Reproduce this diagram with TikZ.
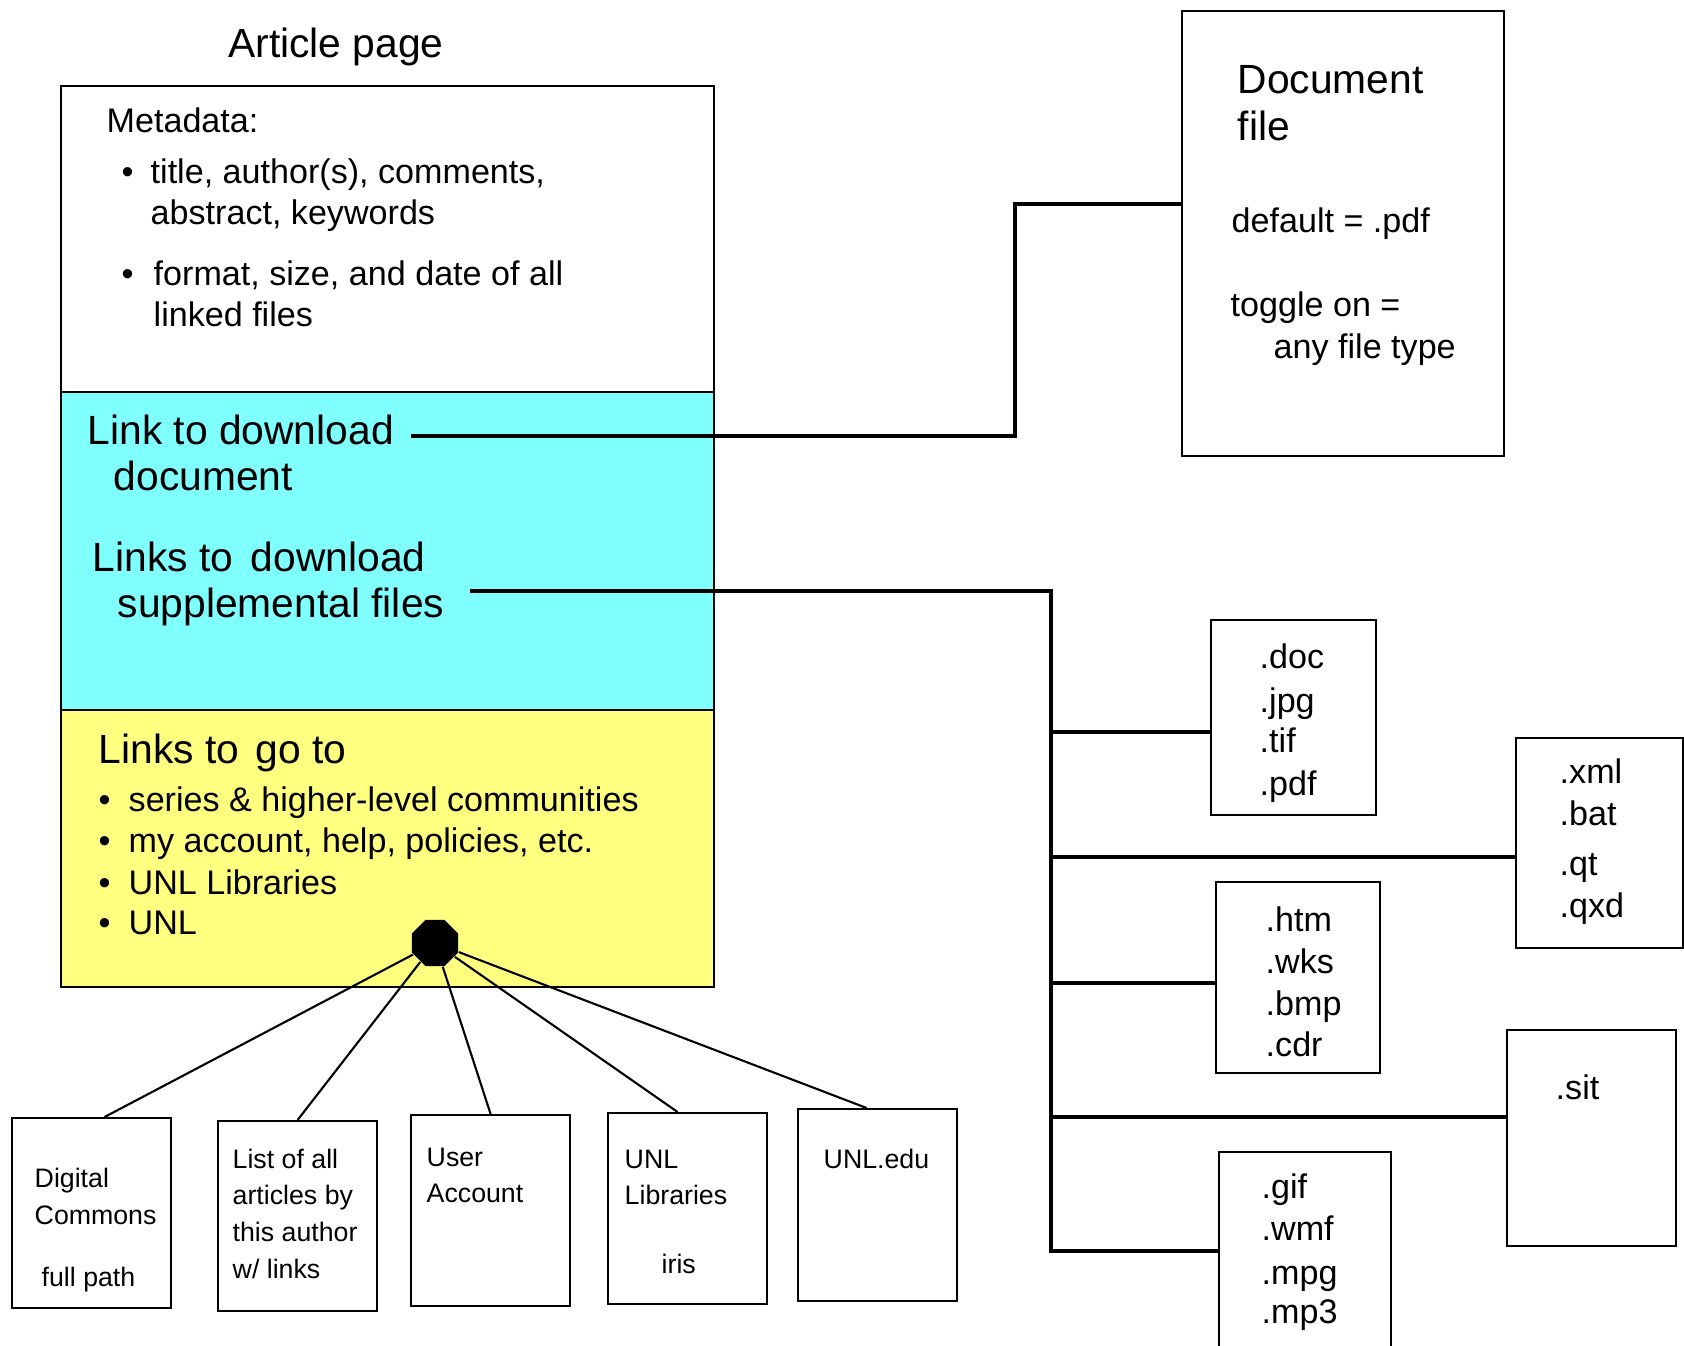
\documentclass[tikz,border=0pt]{standalone}
\usepackage{fontspec}
\setmainfont{Liberation Sans}
\usetikzlibrary{shapes.geometric}
\definecolor{paneCyan}{RGB}{128,255,255}
\definecolor{paneYellow}{RGB}{255,255,128}

\begin{document}
\begin{tikzpicture}[x=0.01cm,y=-0.01cm,
  box/.style={draw, line width=0.6pt, inner sep=0pt, anchor=north west},
  conn/.style={line width=1.2pt},
  spoke/.style={line width=0.6pt},
  lbl/.style={anchor=base west, inner sep=0pt},
  big/.style={lbl, font=\fontsize{11.6}{13}\selectfont},
  sml/.style={lbl, font=\fontsize{9.7}{11}\selectfont},
  tny/.style={lbl, font=\fontsize{7.6}{9}\selectfont},
]
\useasboundingbox (0,0) rectangle (1684,1346);

% ---- article page column
\node[lbl, anchor=base, font=\fontsize{11.6}{13}\selectfont] (title) at (336,58) {Article page};

\node[box, minimum width=6.53cm, minimum height=3.06cm] (meta) at (60,85) {};
\node[box, fill=paneCyan, minimum width=6.53cm, minimum height=3.18cm] (links) at (60,391) {};
\node[box, fill=paneYellow, minimum width=6.53cm, minimum height=2.77cm] (goto) at (60,709) {};

\node[sml] (m0) at (106,133) {Metadata:};
\node[sml] (mb1) at (121,184) {\textbullet};
\node[sml] (m1) at (150,184) {title, author(s), comments,};
\node[sml] (m2) at (150,225) {abstract, keywords};
\node[sml] (mb2) at (121,286) {\textbullet};
\node[sml] (m3) at (153,286) {format, size, and date of all};
\node[sml] (m4) at (153,327) {linked files};

\node[big] (ld1) at (87,445) {Link to download};
\node[big] (ld2) at (113,491) {document};
\node[big] (ls1) at (92,572) {Links to\hspace{1.8pt} download};
\node[big] (ls2) at (117,618) {supplemental files};

\node[big] (g0) at (98,764) {Links to\hspace{1.5pt} go to};
\node[sml] (gb1) at (98,811) {\textbullet};
\node[sml] (g1) at (128,811) {series \& higher-level communities};
\node[sml] (gb2) at (98,853) {\textbullet};
\node[sml] (g2) at (128,853) {my account, help, policies, etc.};
\node[sml] (gb3) at (98,894) {\textbullet};
\node[sml] (g3) at (128,894) {UNL Libraries};
\node[sml] (gb4) at (98,935) {\textbullet};
\node[sml] (g4) at (128,935) {UNL};

% ---- hub and the pages it links to
\node[regular polygon, regular polygon sides=8, fill=black, inner sep=0pt,
      minimum size=0.5cm] (hub) at (435,943) {};

\node[box, minimum width=1.59cm, minimum height=1.90cm] (dc) at (11,1117) {};
\node[box, minimum width=1.59cm, minimum height=1.90cm] (au) at (217,1120) {};
\node[box, minimum width=1.59cm, minimum height=1.91cm] (ua) at (410,1114) {};
\node[box, minimum width=1.59cm, minimum height=1.91cm] (lib) at (607,1112) {};
\node[box, minimum width=1.59cm, minimum height=1.92cm] (edu) at (797,1108) {};

\node[tny] (dc1) at (34,1187) {Digital};
\node[tny] (dc2) at (34,1224) {Commons};
\node[tny] (dc3) at (41,1286) {full path};
\node[tny] (au1) at (232,1168) {List of all};
\node[tny] (au2) at (232,1204) {articles by};
\node[tny] (au3) at (232,1241) {this author};
\node[tny] (au4) at (232,1278) {w/ links};
\node[tny] (ua1) at (426,1166) {User};
\node[tny] (ua2) at (426,1202) {Account};
\node[tny] (lib1) at (624,1168) {UNL};
\node[tny] (lib2) at (624,1204) {Libraries};
\node[tny] (lib3) at (661,1273) {iris};
\node[tny] (edu1) at (823,1168) {UNL.edu};

\draw[spoke] (hub) -- ([xshift=0.13cm]dc.north);
\draw[spoke] (hub) -- (au.north);
\draw[spoke] (hub) -- (ua.north);
\draw[spoke] (hub) -- ([xshift=-0.1cm]lib.north);
\draw[spoke] (hub) -- ([xshift=-0.11cm]edu.north);

% ---- document file
\node[box, minimum width=3.22cm, minimum height=4.45cm] (docfile) at (1181,10) {};
\node[big] (df1) at (1237,94) {Document};
\node[big] (df2) at (1237,141) {file};
\node[sml] (df3) at (1231,233) {default = .pdf};
\node[sml] (df4) at (1230,317) {toggle on =};
\node[sml] (df5) at (1273,359) {any file type};

\coordinate (d0) at (411,436);
\coordinate (d1) at (1015,204);
\draw[conn] (d0) -| (d1) -- (d1 -| docfile.west);

% ---- supplemental file types
\node[box, minimum width=1.65cm, minimum height=1.95cm] (fa) at (1210,619) {};
\node[box, minimum width=1.67cm, minimum height=2.10cm] (fb) at (1515,737) {};
\node[box, minimum width=1.64cm, minimum height=1.91cm] (fc) at (1215,881) {};
\node[box, minimum width=1.69cm, minimum height=2.16cm] (fd) at (1506,1029) {};
\node[box, minimum width=1.72cm, minimum height=2.05cm] (fe) at (1218,1151) {};

\node[sml] (fa1) at (1259,669) {.doc};
\node[sml] (fa2) at (1259,712) {.jpg};
\node[sml] (fa3) at (1259,753) {.tif};
\node[sml] (fa4) at (1259,795) {.pdf};
\node[sml] (fb1) at (1559,784) {.xml};
\node[sml] (fb2) at (1559,826) {.bat};
\node[sml] (fb3) at (1559,875) {.qt};
\node[sml] (fb4) at (1559,917) {.qxd};
\node[sml] (fc1) at (1265,931) {.htm};
\node[sml] (fc2) at (1265,973) {.wks};
\node[sml] (fc3) at (1265,1015) {.bmp};
\node[sml] (fc4) at (1265,1056) {.cdr};
\node[sml] (fd1) at (1555,1099) {.sit};
\node[sml] (fe1) at (1261,1198) {.gif};
\node[sml] (fe2) at (1261,1240) {.wmf};
\node[sml] (fe3) at (1261,1284) {.mpg};
\node[sml] (fe4) at (1261,1323) {.mp3};

\coordinate (s0) at (470,591);
\coordinate (b1) at (1051,732);
\coordinate (b2) at (1051,857);
\coordinate (b3) at (1051,983);
\coordinate (b4) at (1051,1117);
\coordinate (b5) at (1051,1251);
\draw[conn] (s0) -| (b5) -- (b5 -| fe.west);
\draw[conn] (b1) -- (b1 -| fa.west);
\draw[conn] (b2) -- (b2 -| fb.west);
\draw[conn] (b3) -- (b3 -| fc.west);
\draw[conn] (b4) -- (b4 -| fd.west);
\end{tikzpicture}
\end{document}
